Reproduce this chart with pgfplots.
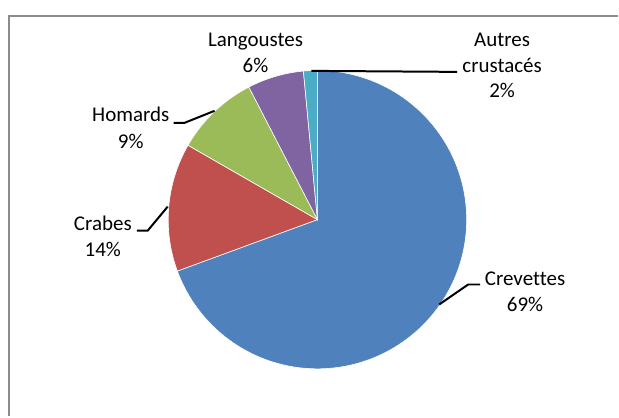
\documentclass[border=0pt]{standalone}
\usepackage{fontspec}
\setmainfont[Ligatures=NoCommon]{Carlito}
\usepackage{pgfplots}
\pgfplotsset{compat=1.18}
\definecolor{cCrev}{HTML}{4F81BD}
\definecolor{cCrab}{HTML}{C0504D}
\definecolor{cHom}{HTML}{9BBB59}
\definecolor{cLang}{HTML}{8064A2}
\definecolor{cAut}{HTML}{4BACC6}
\definecolor{frame}{HTML}{8C8C8C}
% shares in percent (labels show rounded values)
\newcommand{\vCrev}{69.4}
\newcommand{\vCrab}{13.9}
\newcommand{\vHom}{9.1}
\newcommand{\vLang}{6.1}
\newcommand{\vAut}{1.5}
\newcommand{\Lbl}{\fontsize{21}{26}\selectfont}

\begin{document}
\begin{tikzpicture}
\pgfmathsetmacro\aA{90-3.6*\vCrev}
\pgfmathsetmacro\aB{\aA-3.6*\vCrab}
\pgfmathsetmacro\aC{\aB-3.6*\vHom}
\pgfmathsetmacro\aD{\aC-3.6*\vLang}
\pgfmathsetmacro\aE{\aD-3.6*\vAut}
\begin{axis}[
  at={(0,0)}, anchor=south west,
  width=619pt, height=417pt, scale only axis,
  xmin=0, xmax=619, ymin=0, ymax=417, y dir=reverse,
  hide axis, clip=false,
  every axis plot/.append style={samples=120, draw=white, line width=0.6pt},
]
% slices, clockwise from 12 o'clock; centre (318,220), radius 149.5
\addplot[fill=cCrev, domain=\aA:90] ({318+149.5*cos(x)},{220-149.5*sin(x)}) -- (axis cs:318,220) -- cycle;
\addplot[fill=cCrab, domain=\aB:\aA] ({318+149.5*cos(x)},{220-149.5*sin(x)}) -- (axis cs:318,220) -- cycle;
\addplot[fill=cHom, domain=\aC:\aB] ({318+149.5*cos(x)},{220-149.5*sin(x)}) -- (axis cs:318,220) -- cycle;
\addplot[fill=cLang, domain=\aD:\aC] ({318+149.5*cos(x)},{220-149.5*sin(x)}) -- (axis cs:318,220) -- cycle;
\addplot[fill=cAut, domain=\aE:\aD] ({318+149.5*cos(x)},{220-149.5*sin(x)}) -- (axis cs:318,220) -- cycle;
% leader lines
\addplot[black, line width=2pt] coordinates {(440,305) (469,285) (481,285)};
\addplot[black, line width=2pt] coordinates {(137,231) (148,231) (168,207)};
\addplot[black, line width=2pt] coordinates {(174,123) (185,123) (215,111)};
\addplot[black, line width=2pt] coordinates {(312,71) (458,72)};
% frame
\addplot[frame, line width=2.2pt, line cap=butt] coordinates {(9.2,417) (9.2,16.2) (619,16.2)};
% labels
\node[anchor=base, font=\Lbl] at (axis cs:526,286) {Crevettes};
\node[anchor=base, font=\Lbl] at (axis cs:526,312) {69\%};
\node[anchor=base, font=\Lbl] at (axis cs:103,231) {Crabes};
\node[anchor=base, font=\Lbl] at (axis cs:103,257) {14\%};
\node[anchor=base, font=\Lbl] at (axis cs:131,122) {Homards};
\node[anchor=base, font=\Lbl] at (axis cs:131,149) {9\%};
\node[anchor=base, font=\Lbl] at (axis cs:256,47) {Langoustes};
\node[anchor=base, font=\Lbl] at (axis cs:256,73) {6\%};
\node[anchor=base, font=\Lbl] at (axis cs:503,47) {Autres};
\node[anchor=base, font=\Lbl] at (axis cs:503,73) {crustacés};
\node[anchor=base, font=\Lbl] at (axis cs:503,98) {2\%};
\end{axis}
\path[use as bounding box] (0,0) rectangle (619pt,417pt);
\end{tikzpicture}
\end{document}
